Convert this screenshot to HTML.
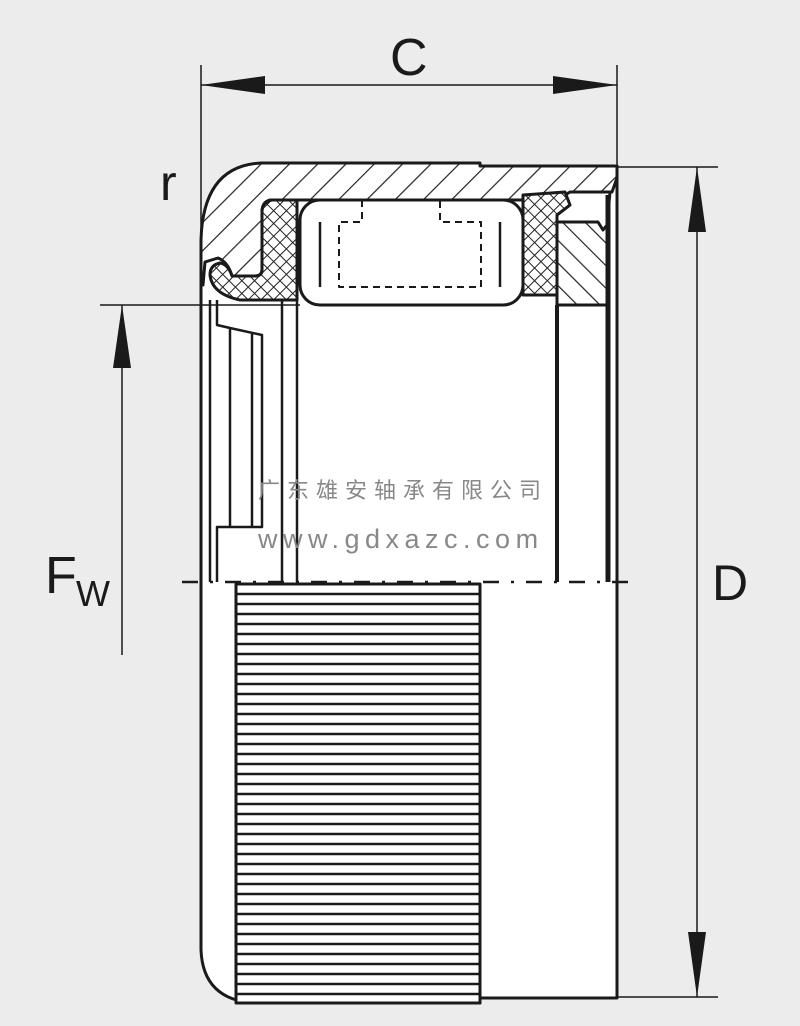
<!DOCTYPE html>
<html><head><meta charset="utf-8"><style>
html,body{margin:0;padding:0;background:#ececec;}
svg{display:block}
</style></head><body>
<svg width="800" height="1026" viewBox="0 0 800 1026" xmlns="http://www.w3.org/2000/svg">
<defs>
<pattern id="h1" patternUnits="userSpaceOnUse" width="20" height="20" patternTransform="rotate(45)">
<rect width="20" height="20" fill="#fff"/><line x1="0" y1="0" x2="0" y2="20" stroke="#222" stroke-width="2.4"/></pattern>
<pattern id="h2" patternUnits="userSpaceOnUse" width="16" height="16" patternTransform="rotate(-45)">
<rect width="16" height="16" fill="#fff"/><line x1="0" y1="0" x2="0" y2="16" stroke="#222" stroke-width="2.4"/></pattern>
<pattern id="x1" patternUnits="userSpaceOnUse" width="9" height="9" patternTransform="rotate(45)">
<rect width="9" height="9" fill="#fff"/><line x1="0" y1="0" x2="0" y2="9" stroke="#222" stroke-width="2"/><line x1="0" y1="0" x2="9" y2="0" stroke="#222" stroke-width="2"/></pattern>
</defs>
<rect width="800" height="1026" fill="#ececec"/>
<g stroke="#1a1a1a" stroke-width="3" fill="none" stroke-linejoin="round">
<path d="M201,582 L201,250 Q201,165 260,163 L617,165 L617,998 L480,998 L480,1003 L250,1003 Q201,1000 201,950 Z" fill="#fff" stroke="none"/>
<path d="M201,582 L201,950 Q203,1000 255,1003 L480,1003 L480,998 L617,998 L617,582"/>
<rect x="236" y="584" width="244" height="419" fill="#fff"/>
<g stroke-width="2.6">
<path d="M236,594H480M236,604H480M236,614H480M236,624H480M236,634H480M236,644H480M236,654H480M236,664H480M236,674H480M236,684H480M236,694H480M236,704H480M236,714H480M236,724H480M236,734H480M236,744H480M236,754H480M236,764H480M236,774H480M236,784H480M236,794H480M236,804H480M236,814H480M236,824H480M236,834H480M236,844H480M236,854H480M236,864H480M236,874H480M236,884H480M236,894H480M236,904H480M236,914H480M236,924H480M236,934H480M236,944H480M236,954H480M236,964H480M236,974H480M236,984H480M236,994H480"/>
</g>
<path d="M201,285 L201,240 Q203,165 262,163 L480,163 L480,166 L617,166 L617,178 L612,192 L570,192 L557,200 L270,200 Q262,202 262,212 L262,270 Q262,276 255,276 L232,276 Q228,262 218,258 L205,262 L203,285 Z" fill="url(#h1)"/>
<path d="M262,212 Q262,202 272,200 L297,200 L297,300 L240,300 Q212,294 210,275 Q210,265 220,263 Q228,264 232,276 L255,276 Q262,276 262,270 Z" fill="url(#x1)"/>
<path d="M523,195 L565,192 L570,205 L557,215 L557,295 L523,295 Z" fill="url(#x1)"/>
<path d="M557,222 L598,222 L603,230 L607,225 L607,305 L557,305 Z" fill="url(#h2)"/>
<path d="M570,192 L610,192 L607,225" fill="#fff"/>
<rect x="300" y="200" width="223" height="105" rx="20" fill="#fff"/>
<path d="M320,222V287M500,222V287" stroke-width="2.5"/>
<path d="M362,200V222H339V287H481V222H440V200" stroke-width="2" stroke-dasharray="7,5"/>
<path d="M210,300V582M217,300V325L230,328L262,335V527H217V582M230,328V527M252,333V527" stroke-width="2.5"/>
<path d="M282,300V582M297,300V582" stroke-width="2.5"/>
<path d="M557,305V582" stroke-width="4"/>
<path d="M608,195V582" stroke-width="5"/>
<path d="M617,165V582M201,250V582" stroke-width="3"/>
</g>
<path d="M182,582H640" stroke="#1a1a1a" stroke-width="2.5" stroke-dasharray="16,12,3,12"/>
<g stroke="#1a1a1a" stroke-width="1.5" fill="none">
<path d="M201,65V250M617,65V165M201,85H617M617,167H718M617,997H718M697,167V997M100,305H300M122,305V655"/>
</g>
<g fill="#1a1a1a">
<path d="M201,85L265,76L265,94Z"/><path d="M617,85L553,76L553,94Z"/>
<path d="M697,167L688,232L706,232Z"/><path d="M697,997L688,932L706,932Z"/>
<path d="M122,305L113,368L131,368Z"/>
</g>
<g font-family="'Liberation Sans',sans-serif" fill="#1a1a1a">
<text x="390" y="75" font-size="52">C</text>
<text x="160" y="200" font-size="50">r</text>
<text x="45" y="593" font-size="52">F</text><text x="76" y="606" font-size="36">W</text>
<text x="712" y="600" font-size="50">D</text>
</g>
<g fill="#888" font-family="'Liberation Sans','Noto Sans CJK SC',sans-serif">
<text x="258" y="498" font-size="22" letter-spacing="7">广东雄安轴承有限公司</text>
<text x="258" y="548" font-size="27" letter-spacing="5.5">www.gdxazc.com</text>
</g>
</svg>
</body></html>
